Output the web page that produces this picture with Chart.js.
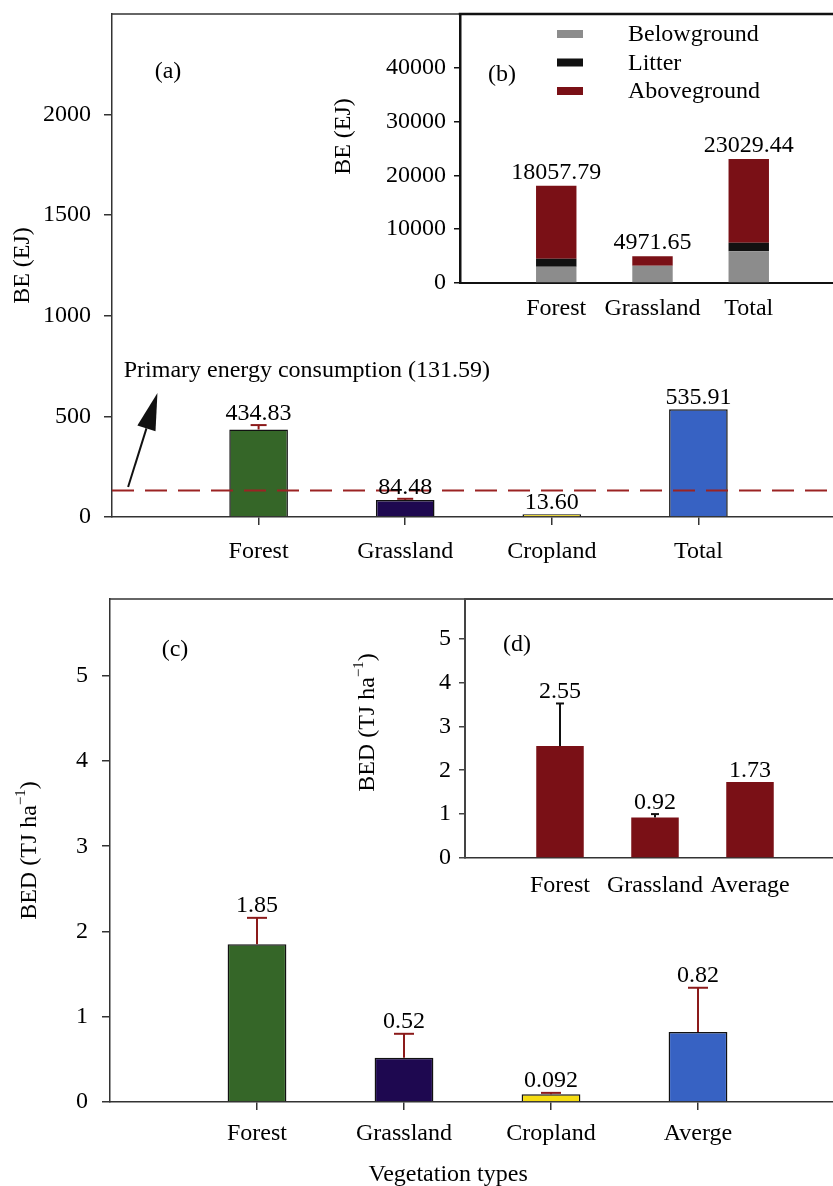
<!DOCTYPE html>
<html lang="en">
<head>
<meta charset="UTF-8">
<title>BE and BED by vegetation type</title>
<script src="https://cdn.jsdelivr.net/npm/chart.js"></script>
<style>
  html, body { margin: 0; padding: 0; background: #fff; overflow: hidden; width: 833px; height: 1186px; }
  canvas { position: absolute; }
  #chartA { left: 0; top: 0; }
  #chartB { left: 330px; top: 0; }
  #chartC { left: 0; top: 580px; }
  #chartD { left: 330px; top: 580px; }
</style>
</head>
<body>

<canvas id="chartA" width="845" height="575"></canvas>
<canvas id="chartC" width="845" height="606"></canvas>
<canvas id="chartB" width="515" height="340"></canvas>
<canvas id="chartD" width="515" height="325"></canvas>

<script>
// ---- data ----
const catsA = ['Forest', 'Grassland', 'Cropland', 'Total'];
const beValues = [434.83, 84.48, 13.60, 535.91];
const beErrors = [22, 6, 0, 0];
const PRIMARY_ENERGY = 131.59;

const catsB = ['Forest', 'Grassland', 'Total'];
const belowground = [3000, 3200, 5900];
const litter = [1500, 0, 1600];
const aboveground = [13557.79, 1771.65, 15529.44];
const beTotalsB = [18057.79, 4971.65, 23029.44];

const catsC = ['Forest', 'Grassland', 'Cropland', 'Averge'];
const bedValues = [1.85, 0.52, 0.092, 0.82];
const bedErrors = [0.31, 0.28, 0.015, 0.52];

const catsD = ['Forest', 'Grassland', 'Average'];
const bedInset = [2.55, 0.92, 1.73];
const bedInsetErrors = [0.97, 0.08, 0];

const typeColors = ['#356628', '#1e0850', '#f5dc12', '#3762c3'];
const darkRed = '#7a1016';

const FONT = "'Liberation Serif', 'Times New Roman', serif";
Chart.defaults.font.family = FONT;
Chart.defaults.font.size = 24;
Chart.defaults.color = '#000';

// empty slot before the first and after the last category
const pad = arr => [null, ...arr, null];
const padLabels = arr => ['', ...arr, ''];

// ---- drawing helpers ----
function line(ctx, x0, y0, x1, y1, color, w) {
  ctx.save();
  ctx.strokeStyle = color;
  ctx.lineWidth = w;
  ctx.beginPath();
  ctx.moveTo(x0, y0);
  ctx.lineTo(x1, y1);
  ctx.stroke();
  ctx.restore();
}

function text(ctx, str, x, y, align, baseline, size) {
  ctx.save();
  ctx.font = (size || 24) + 'px ' + FONT;
  ctx.fillStyle = '#000';
  ctx.textAlign = align || 'center';
  ctx.textBaseline = baseline || 'alphabetic';
  ctx.fillText(str, x, y);
  ctx.restore();
}

// rotated axis title, optional superscript before the closing bracket
function yTitle(ctx, main, sup, tail, cx, cy) {
  ctx.save();
  ctx.translate(cx, cy);
  ctx.rotate(-Math.PI / 2);
  ctx.fillStyle = '#000';
  ctx.textBaseline = 'middle';
  ctx.textAlign = 'left';
  ctx.font = '24px ' + FONT;
  const w1 = ctx.measureText(main).width;
  const w3 = ctx.measureText(tail).width;
  ctx.font = '15px ' + FONT;
  const w2 = sup ? ctx.measureText(sup).width : 0;
  let x = -(w1 + w2 + w3) / 2;
  ctx.font = '24px ' + FONT;
  ctx.fillText(main, x, 0);
  x += w1;
  if (sup) {
    ctx.font = '15px ' + FONT;
    ctx.fillText(sup, x, -9);
    x += w2;
  }
  ctx.font = '24px ' + FONT;
  ctx.fillText(tail, x, 0);
  ctx.restore();
}

function drawErrors(chart, ds, errors, color, capHalf, w) {
  const meta = chart.getDatasetMeta(ds);
  const y = chart.scales.y;
  const vals = chart.data.datasets[ds].data;
  errors.forEach((e, i) => {
    if (!e) return;
    const bar = meta.data[i + 1];
    const top = y.getPixelForValue(vals[i + 1] + e);
    line(chart.ctx, bar.x, bar.y, bar.x, top, color, w);
    line(chart.ctx, bar.x - capHalf, top, bar.x + capHalf, top, color, w);
  });
}

function drawValueLabels(chart, ds, labels, errors, gap) {
  const meta = chart.getDatasetMeta(ds);
  const y = chart.scales.y;
  const vals = chart.data.datasets[ds].data;
  labels.forEach((lab, i) => {
    const bar = meta.data[i + 1];
    let top = bar.y;
    if (errors && errors[i]) top = Math.min(top, y.getPixelForValue(vals[i + 1] + errors[i]));
    text(chart.ctx, lab, bar.x, top - gap, 'center', 'alphabetic');
  });
}

function arrow(ctx, x0, y0, x1, y1, headLen, headHalf) {
  const ang = Math.atan2(y1 - y0, x1 - x0);
  const bx = x1 - headLen * Math.cos(ang), by = y1 - headLen * Math.sin(ang);
  line(ctx, x0, y0, bx, by, '#111', 2);
  ctx.save();
  ctx.fillStyle = '#111';
  ctx.beginPath();
  ctx.moveTo(x1, y1);
  ctx.lineTo(bx + headHalf * Math.sin(ang), by - headHalf * Math.cos(ang));
  ctx.lineTo(bx - headHalf * Math.sin(ang), by + headHalf * Math.cos(ang));
  ctx.closePath();
  ctx.fill();
  ctx.restore();
}

// ---- scale builders ----
function xScale(cats, o) {
  return {
    type: 'category',
    offset: false,
    stacked: !!o.stacked,
    grid: {
      offset: false,
      drawOnChartArea: false,
      drawTicks: o.ticks,
      tickLength: 8,
      lineWidth: 1.5,
      color: ctx => (ctx.tick && ctx.tick.label) ? '#333' : 'rgba(0,0,0,0)'
    },
    border: { color: o.borderColor, width: o.borderWidth },
    ticks: { autoSkip: false, maxRotation: 0, padding: o.pad },
    afterFit: s => { s.height = o.height; s.paddingLeft = 0; s.paddingRight = 0; }
  };
}

function yScale(o) {
  return {
    type: 'linear',
    min: 0,
    max: o.max,
    stacked: !!o.stacked,
    ticks: { stepSize: o.step, padding: o.pad, callback: v => String(v) },
    afterBuildTicks: s => { s.ticks = s.ticks.filter(t => t.value <= o.last); },
    grid: { drawOnChartArea: false, tickLength: o.tick, lineWidth: 1.5, color: o.borderColor },
    border: { color: o.borderColor, width: o.borderWidth },
    afterFit: s => { s.width = o.width; s.paddingTop = 0; s.paddingBottom = 0; }
  };
}

const baseOptions = (top, scales) => ({
  responsive: false,
  animation: false,
  events: [],
  layout: { padding: { top: top, left: 0, right: 0, bottom: 0 } },
  plugins: { legend: { display: false }, tooltip: { enabled: false } },
  scales: scales
});

// ---- (a) BE by vegetation type ----
new Chart(document.getElementById('chartA'), {
  type: 'bar',
  data: {
    labels: padLabels(catsA),
    datasets: [{
      data: pad(beValues),
      backgroundColor: pad(typeColors),
      borderColor: '#111',
      borderWidth: 1.5,
      barPercentage: 0.4,
      categoryPercentage: 1
    }]
  },
  options: baseOptions(14, {
    x: xScale(catsA, { ticks: true, pad: 12, height: 58, borderColor: '#333', borderWidth: 1.5 }),
    y: yScale({ max: 2500, step: 500, last: 2000, pad: 13, tick: 8, width: 112, borderColor: '#333', borderWidth: 1.5 })
  }),
  plugins: [{
    id: 'decorA',
    afterDatasetsDraw(chart) {
      const { ctx, chartArea: a, scales: { x, y } } = chart;
      line(ctx, a.left - 0.75, a.top, a.right, a.top, '#333', 1.5);
      // primary energy consumption reference
      ctx.save();
      ctx.setLineDash([22, 11]);
      const yr = y.getPixelForValue(PRIMARY_ENERGY);
      line(ctx, a.left, yr, a.right, yr, '#9b2323', 2);
      ctx.restore();
      drawErrors(chart, 0, beErrors, '#8b1a1a', 8, 2);
      drawValueLabels(chart, 0, beValues.map(v => v.toFixed(2)), beErrors, 5);
      text(ctx, 'Primary energy consumption (' + PRIMARY_ENERGY + ')', x.getPixelForValue(0.08), y.getPixelForValue(696), 'left');
      arrow(ctx, x.getPixelForValue(0.11), y.getPixelForValue(149), x.getPixelForValue(0.31), y.getPixelForValue(616), 37, 9.5);
      text(ctx, '(a)', a.left + 56, a.top + 58, 'center', 'middle');
      yTitle(ctx, 'BE (EJ)', '', '', 23, (a.top + a.bottom) / 2);
    }
  }]
});

// ---- (b) BE components ----
new Chart(document.getElementById('chartB'), {
  type: 'bar',
  data: {
    labels: padLabels(catsB),
    datasets: [
      { label: 'Belowground', data: pad(belowground), backgroundColor: '#8c8c8c', barPercentage: 0.42, categoryPercentage: 1 },
      { label: 'Litter', data: pad(litter), backgroundColor: '#111111', barPercentage: 0.42, categoryPercentage: 1 },
      { label: 'Aboveground', data: pad(aboveground), backgroundColor: darkRed, barPercentage: 0.42, categoryPercentage: 1 }
    ]
  },
  options: baseOptions(14, {
    x: xScale(catsB, { ticks: false, stacked: true, pad: 11, height: 57, borderColor: '#111', borderWidth: 2 }),
    y: yScale({ max: 50000, step: 10000, last: 40000, stacked: true, pad: 8, tick: 6, width: 130, borderColor: '#111', borderWidth: 2.5 })
  }),
  plugins: [{
    id: 'decorB',
    afterDatasetsDraw(chart) {
      const { ctx, chartArea: a } = chart;
      line(ctx, a.left - 1.25, a.top, a.right, a.top, '#111', 2.5);
      drawValueLabels(chart, 2, beTotalsB.map(v => v.toFixed(2)), null, 7);
      chart.data.datasets.forEach((ds, i) => {
        const cy = a.top + 20 + i * 28.5;
        ctx.save();
        ctx.fillStyle = ds.backgroundColor;
        ctx.fillRect(a.left + 97, cy - 4, 26, 8);
        ctx.restore();
        text(ctx, ds.label, a.left + 168, cy + 1, 'left', 'middle');
      });
      text(ctx, '(b)', a.left + 42, a.top + 61, 'center', 'middle');
      yTitle(ctx, 'BE (EJ)', '', '', 14, (a.top + a.bottom) / 2 - 12);
    }
  }]
});

// ---- (c) BED by vegetation type ----
new Chart(document.getElementById('chartC'), {
  type: 'bar',
  data: {
    labels: padLabels(catsC),
    datasets: [{
      data: pad(bedValues),
      backgroundColor: pad(typeColors),
      borderColor: '#111',
      borderWidth: 1.5,
      barPercentage: 0.4,
      categoryPercentage: 1
    }]
  },
  options: baseOptions(19, {
    x: xScale(catsC, { ticks: true, pad: 9, height: 84, borderColor: '#333', borderWidth: 1.5 }),
    y: yScale({ max: 5.9, step: 1, last: 5, pad: 14, tick: 8, width: 110, borderColor: '#333', borderWidth: 1.5 })
  }),
  plugins: [{
    id: 'decorC',
    afterDatasetsDraw(chart) {
      const { ctx, chartArea: a, scales: { x } } = chart;
      line(ctx, a.left - 0.75, a.top, a.right, a.top, '#333', 1.5);
      drawErrors(chart, 0, bedErrors, '#8b1a1a', 10, 2);
      drawValueLabels(chart, 0, bedValues.map(String), bedErrors, 6);
      text(ctx, '(c)', a.left + 65, a.top + 51, 'center', 'middle');
      text(ctx, 'Vegetation types', x.getPixelForValue(2.3), 601, 'center', 'alphabetic');
      yTitle(ctx, 'BED (TJ ha', '\u22121', ')', 30, (a.top + a.bottom) / 2);
    }
  }]
});

// ---- (d) BED inset ----
new Chart(document.getElementById('chartD'), {
  type: 'bar',
  data: {
    labels: padLabels(catsD),
    datasets: [{
      data: pad(bedInset),
      backgroundColor: darkRed,
      barPercentage: 0.5,
      categoryPercentage: 1
    }]
  },
  options: baseOptions(19, {
    x: xScale(catsD, { ticks: false, pad: 13, height: 47, borderColor: '#333', borderWidth: 1.5 }),
    y: yScale({ max: 5.9, step: 1, last: 5, pad: 8, tick: 6, width: 135, borderColor: '#444', borderWidth: 2 })
  }),
  plugins: [{
    id: 'decorD',
    afterDatasetsDraw(chart) {
      const { ctx, chartArea: a } = chart;
      line(ctx, a.left - 1, a.top, a.right, a.top, '#444', 2);
      drawErrors(chart, 0, bedInsetErrors, '#111', 4, 2);
      drawValueLabels(chart, 0, bedInset.map(String), bedInsetErrors, 5);
      text(ctx, '(d)', a.left + 52, a.top + 46, 'center', 'middle');
      yTitle(ctx, 'BED (TJ ha', '\u22121', ')', 38, (a.top + a.bottom) / 2 - 6);
    }
  }]
});
</script>

</body>
</html>
